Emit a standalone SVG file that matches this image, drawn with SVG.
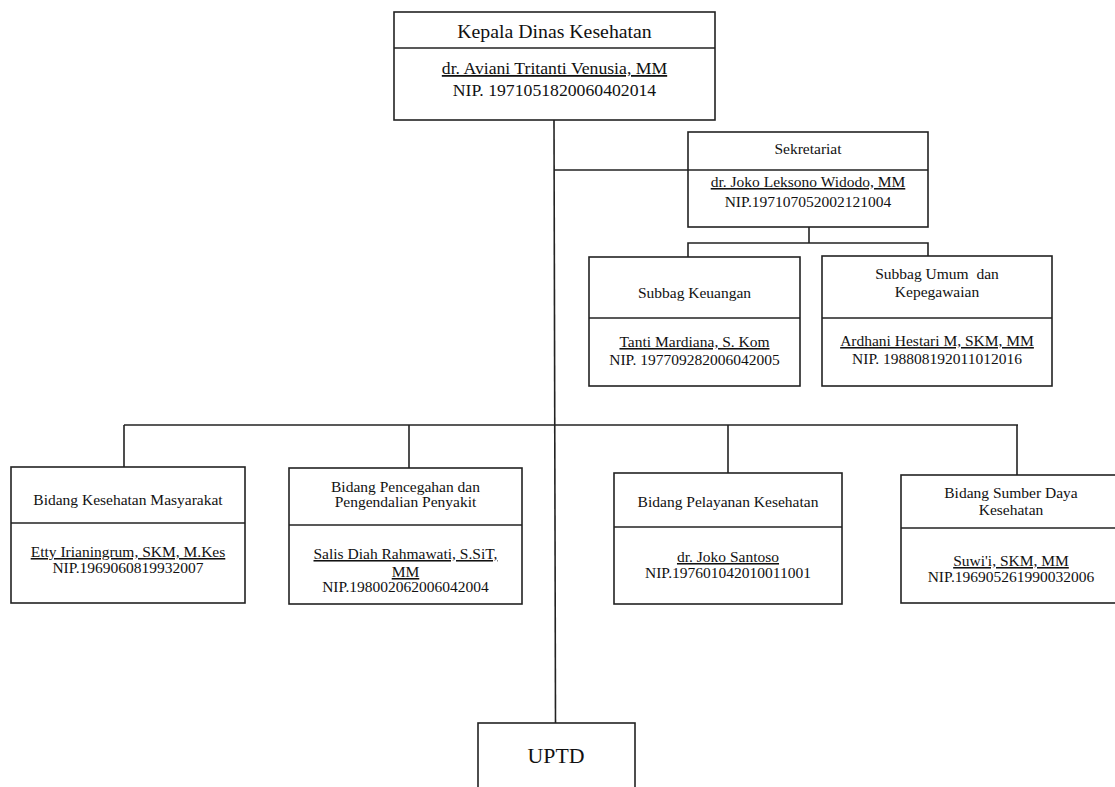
<svg xmlns="http://www.w3.org/2000/svg" width="1115" height="787" viewBox="0 0 1115 787">
<style>
  .box { fill: #ffffff; stroke: #222222; stroke-width: 1.6; }
  .div { stroke: #222222; stroke-width: 1.6; fill: none; }
  .conn { stroke: #222222; stroke-width: 1.6; fill: none; }
  text { font-family: "Liberation Serif", "Times New Roman", serif; fill: #111111; text-anchor: middle; }
  .t { font-size: 15.5px; }
  .u { text-decoration: underline; }
  .big { font-size: 19.8px; }
  .mid { font-size: 17.7px; }
  .uptd { font-size: 21.8px; }
</style>
<rect width="1115" height="787" fill="#ffffff"/>

<g id="connectors">
  <line class="conn" x1="554" y1="120" x2="555.5" y2="723"/>
  <line class="conn" x1="554" y1="170" x2="688" y2="170"/>
  <line class="conn" x1="809" y1="227" x2="809" y2="243"/>
  <polyline class="conn" points="688,257 688,243 928,243 928,256"/>
  <line class="conn" x1="124" y1="425" x2="1018" y2="425"/>
  <line class="conn" x1="124" y1="425" x2="124" y2="467"/>
  <line class="conn" x1="409" y1="425" x2="409" y2="468"/>
  <line class="conn" x1="728" y1="425" x2="728" y2="473"/>
  <line class="conn" x1="1017" y1="425" x2="1017" y2="475"/>
</g>

<g id="kepala">
  <rect class="box" x="394" y="12" width="321" height="108"/>
  <line class="div" x1="394" y1="48" x2="715" y2="48"/>
  <text class="big" x="554.5" y="38">Kepala Dinas Kesehatan</text>
  <text class="mid u" x="554.5" y="74">dr. Aviani Tritanti Venusia, MM</text>
  <text class="mid" x="554.5" y="96">NIP. 1971051820060402014</text>
</g>

<g id="sekretariat">
  <rect class="box" x="688" y="132" width="240" height="95"/>
  <line class="div" x1="688" y1="170" x2="928" y2="170"/>
  <text class="t" x="808" y="154">Sekretariat</text>
  <text class="t u" x="808" y="187">dr. Joko Leksono Widodo, MM</text>
  <text class="t" x="808" y="207">NIP.197107052002121004</text>
</g>

<g id="subbag-keuangan">
  <rect class="box" x="589" y="257" width="211" height="129"/>
  <line class="div" x1="589" y1="318" x2="800" y2="318"/>
  <text class="t" x="694.5" y="298">Subbag Keuangan</text>
  <text class="t u" x="694.5" y="347">Tanti Mardiana, S. Kom</text>
  <text class="t" x="694.5" y="365">NIP. 197709282006042005</text>
</g>

<g id="subbag-umum">
  <rect class="box" x="822" y="256" width="230" height="130"/>
  <line class="div" x1="822" y1="318" x2="1052" y2="318"/>
  <text class="t" x="937" y="279" xml:space="preserve">Subbag Umum  dan</text>
  <text class="t" x="937" y="297">Kepegawaian</text>
  <text class="t u" x="937" y="346">Ardhani Hestari M, SKM, MM</text>
  <text class="t" x="937" y="364">NIP. 198808192011012016</text>
</g>

<g id="bidang-kesmas">
  <rect class="box" x="11" y="467" width="234" height="136"/>
  <line class="div" x1="11" y1="523" x2="245" y2="523"/>
  <text class="t" x="128" y="505">Bidang Kesehatan Masyarakat</text>
  <text class="t u" x="128" y="557">Etty Irianingrum, SKM, M.Kes</text>
  <text class="t" x="128" y="573">NIP.1969060819932007</text>
</g>

<g id="bidang-p2p">
  <rect class="box" x="289" y="468" width="233" height="136"/>
  <line class="div" x1="289" y1="525" x2="522" y2="525"/>
  <text class="t" x="405.5" y="492">Bidang Pencegahan dan</text>
  <text class="t" x="405.5" y="507">Pengendalian Penyakit</text>
  <text class="t u" x="405.5" y="559">Salis Diah Rahmawati, S.SiT,</text>
  <text class="t u" x="405.5" y="577">MM</text>
  <text class="t" x="405.5" y="592">NIP.198002062006042004</text>
</g>

<g id="bidang-yankes">
  <rect class="box" x="614" y="473" width="228" height="131"/>
  <line class="div" x1="614" y1="527" x2="842" y2="527"/>
  <text class="t" x="728" y="507">Bidang Pelayanan Kesehatan</text>
  <text class="t u" x="728" y="562">dr. Joko Santoso</text>
  <text class="t" x="728" y="578">NIP.197601042010011001</text>
</g>

<g id="bidang-sdk">
  <rect class="box" x="901" y="475" width="222" height="128"/>
  <line class="div" x1="901" y1="528" x2="1123" y2="528"/>
  <text class="t" x="1011" y="498">Bidang Sumber Daya</text>
  <text class="t" x="1011" y="515">Kesehatan</text>
  <text class="t u" x="1011" y="566">Suwi'i, SKM, MM</text>
  <text class="t" x="1011" y="582">NIP.196905261990032006</text>
</g>

<g id="uptd">
  <rect class="box" x="478" y="723" width="157" height="80"/>
  <text class="uptd" x="556" y="763">UPTD</text>
</g>
</svg>
